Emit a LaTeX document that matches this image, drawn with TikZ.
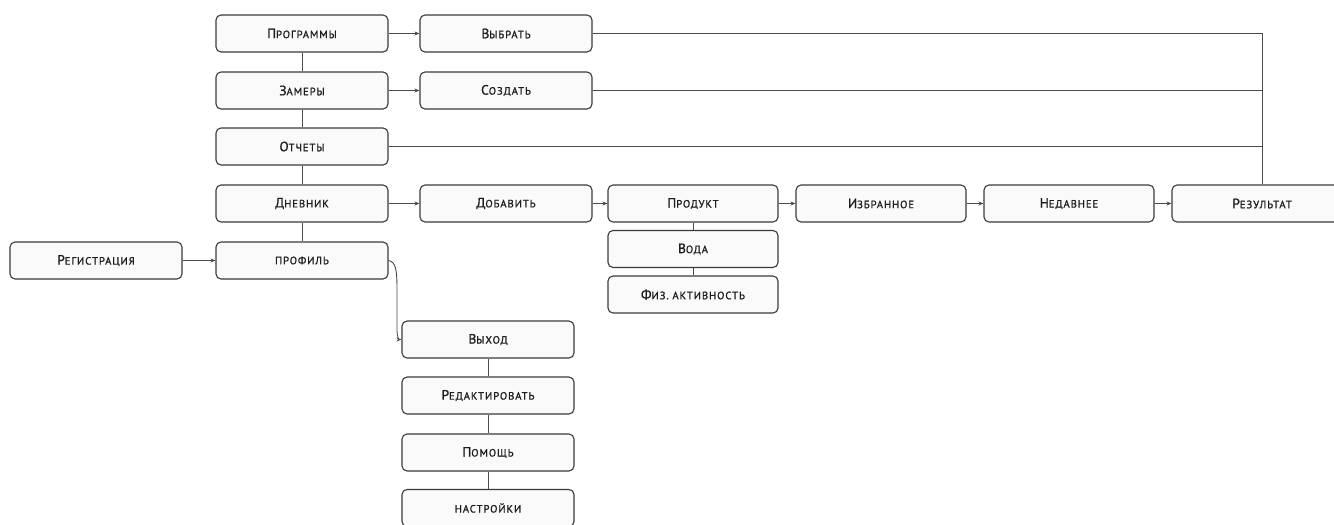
\documentclass[tikz,border=0pt]{standalone}
\usepackage{fontspec}
\usetikzlibrary{arrows.meta}
\newfontfamily\boxfont[LetterSpace=9,FakeBold=1.2]{PT Sans}
\newcommand\smc[2]{{\fontsize{13.5}{13.5}\selectfont #1}{\fontsize{10.6}{11}\selectfont #2}}
\definecolor{bordercol}{HTML}{3A3A3A}
\definecolor{linecol}{HTML}{4A4A4A}
\definecolor{fillcol}{HTML}{FAFAFA}
\definecolor{textcol}{HTML}{1E1E1E}
\tikzset{
  box/.style={draw=bordercol, line width=1.1pt, rounded corners=5pt, fill=fillcol,
    minimum width=172pt, minimum height=37pt, inner sep=0pt, text=textcol,
    font=\boxfont},
  narrowbox/.style={box, minimum width=170pt},
  conn/.style={draw=linecol, line width=0.9pt},
  arr/.style={conn, -{Stealth[length=5pt,width=4pt]}},
}
\begin{document}
\begin{tikzpicture}[x=1pt,y=-1pt]
\useasboundingbox (0,0) rectangle (1334,525);
\clip (0,0) rectangle (1334,525);
\node[box] (prog) at (302,33.5) {\smc{П}{РОГРАММЫ}};
\node[box] (vyb)  at (506,33.5) {\smc{В}{ЫБРАТЬ}};
\node[box] (zam)  at (302,90.5) {\smc{З}{АМЕРЫ}};
\node[box] (soz)  at (506,90.5) {\smc{С}{ОЗДАТЬ}};
\node[box] (otch) at (302,146.5) {\smc{О}{ТЧЕТЫ}};
\node[box] (dnev) at (302,203.5) {\smc{Д}{НЕВНИК}};
\node[box] (dob)  at (506,203.5) {\smc{Д}{ОБАВИТЬ}};
\node[narrowbox] (prod) at (693,203.5) {\smc{П}{РОДУКТ}};
\node[narrowbox] (izb)  at (881,203.5) {\smc{И}{ЗБРАННОЕ}};
\node[narrowbox] (ned)  at (1069,203.5) {\smc{Н}{ЕДАВНЕЕ}};
\node[box, minimum width=180pt] (res) at (1262,203.5) {\smc{Р}{ЕЗУЛЬТАТ}};
\node[box] (reg)  at (96,260.5) {\smc{Р}{ЕГИСТРАЦИЯ}};
\node[box] (prof) at (302,260.5) {\smc{}{ПРОФИЛЬ}};
\node[narrowbox] (voda) at (693,249) {\smc{В}{ОДА}};
\node[narrowbox] (fiz)  at (693,294.5) {\smc{Ф}{ИЗ. АКТИВНОСТЬ}};
\node[box] (vyh)  at (488,339.5) {\smc{В}{ЫХОД}};
\node[box] (red)  at (488,395.5) {\smc{Р}{ЕДАКТИРОВАТЬ}};
\node[box] (pom)  at (488,452.5) {\smc{П}{ОМОЩЬ}};
\node[box] (nast) at (488,508) {\smc{}{НАСТРОЙКИ}};
\coordinate (jct) at (1262,33.5);
% vertical chain
\draw[conn] (prog) -- (zam);
\draw[conn] (zam) -- (otch);
\draw[conn] (otch) -- (dnev);
\draw[conn] (dnev) -- (prof);
\draw[conn] (prod) -- (voda);
\draw[conn] (voda) -- (fiz);
\draw[conn] (vyh) -- (red);
\draw[conn] (red) -- (pom);
\draw[conn] (pom) -- (nast);
% arrows
\draw[arr] (prog) -- (vyb);
\draw[arr] (zam) -- (soz);
\draw[arr] (dnev) -- (dob);
\draw[arr] (dob) -- (prod);
\draw[arr] (prod) -- (izb);
\draw[arr] (izb) -- (ned);
\draw[arr] (ned) -- (res);
\draw[arr] (reg) -- (prof);
% lines to result
\draw[conn] (vyb.east) -- (jct) -- (jct |- res.north);
\draw[conn] (soz.east) -- (soz.east -| jct);
\draw[conn] (otch.east) -- (otch.east -| jct);
% profile to exit
\draw[arr] (prof.east) .. controls (396,262) and (397,270) .. (397,290) -- (397,331) .. controls (397,336) and (399,339.5) .. (vyh.west);
\end{tikzpicture}
\end{document}
